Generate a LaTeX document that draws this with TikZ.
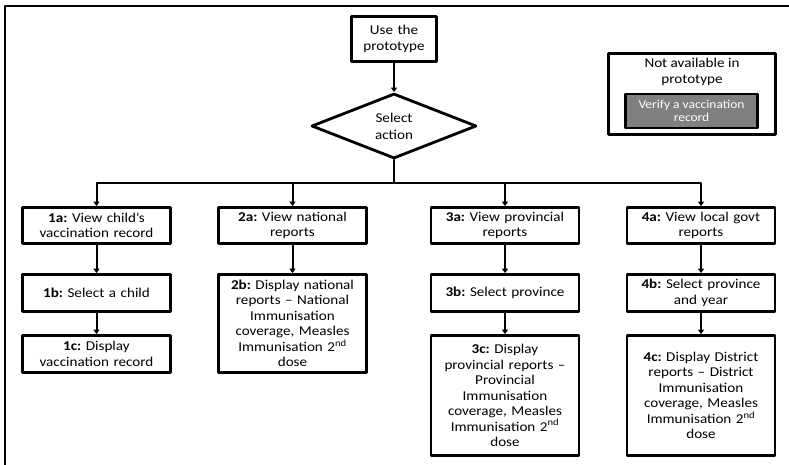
\documentclass[tikz,border=0pt]{standalone}
\usepackage{fontspec}
\setmainfont{Carlito}[FakeStretch=1.12]
\frenchspacing
\usetikzlibrary{shapes.geometric, arrows.meta}

\begin{document}
\begin{tikzpicture}[x=1pt, y=-1pt, line cap=round, line join=round,
  box/.style={draw, line width=2.8pt, minimum width=148, text width=146,
    align=center, inner sep=1pt, font=\fontsize{13.5}{15.5}\selectfont},
  arr/.style={-{Triangle[width=6pt,length=4.5pt]}, line width=2pt}]

\useasboundingbox (0,0) rectangle (789,465);

% cornice
\draw[line width=1.6pt] (5,465) -- (5,6) -- (789,6);

% inizio e scelta
\node[box, minimum width=85, minimum height=45, text width=82,
  font=\fontsize{13.5}{16.5}\selectfont] (use) at (394,39) {Use the\\prototype};
\node[draw, diamond, line width=2.8pt, minimum width=165, minimum height=65,
  inner sep=0pt, align=center, font=\fontsize{13.5}{17}\selectfont] (act) at (394,126) {Select\\action};
\coordinate (bus) at (394,183);

% non disponibile
\node[draw, line width=2.8pt, minimum width=167, minimum height=81] (na) at (692,94) {};
\node[font=\fontsize{13.5}{15.5}\selectfont, align=center] (natxt) at (692,72) {Not available in\\prototype};
\node[draw, line width=2.8pt, fill=black!50, text=white, minimum width=132, minimum height=34,
  align=center, font=\fontsize{12}{12.5}\selectfont] (verify) at (691.5,111) {Verify a vaccination\\record};

% colonna 1
\node[box, minimum height=36] (v1a) at (96.5,225.5) {\textbf{1a:} View child’s\\vaccination record};
\node[box, minimum height=37] (v1b) at (96.5,293) {\textbf{1b:} Select a child};
\node[box, minimum height=37] (v1c) at (96.5,354) {\textbf{1c:} Display\\vaccination record};

% colonna 2
\node[box, minimum height=36] (v2a) at (292.5,225.5) {\textbf{2a:} View national\\reports};
\node[box, minimum height=98] (v2b) at (292.5,323.5) {\textbf{2b:} Display national\\reports -- National\\Immunisation\\coverage, Measles\\Immunisation 2\textsuperscript{nd}\\dose};

% colonna 3
\node[box, minimum height=36] (v3a) at (505,225.5) {\textbf{3a:} View provincial\\reports};
\node[box, minimum height=37] (v3b) at (505,293) {\textbf{3b:} Select province};
\node[box, minimum height=120] (v3c) at (505,395.5) {\textbf{3c:} Display\\provincial reports --\\Provincial\\Immunisation\\coverage, Measles\\Immunisation 2\textsuperscript{nd}\\dose};

% colonna 4
\node[box, minimum height=36] (v4a) at (701,225.5) {\textbf{4a:} View local govt\\reports};
\node[box, minimum height=37] (v4b) at (701,293) {\textbf{4b:} Select province\\and year};
\node[box, minimum height=120] (v4c) at (701,395.5) {\textbf{4c:} Display District\\reports -- District\\Immunisation\\coverage, Measles\\Immunisation 2\textsuperscript{nd}\\dose};

% frecce
\draw[arr] (use) -- (act);
\draw[line width=2pt] (act) -- (bus);
\draw[arr] (bus) -| (v1a);
\draw[arr] (bus) -| (v2a);
\draw[arr] (bus) -| (v3a);
\draw[arr] (bus) -| (v4a);
\draw[arr] (v1a) -- (v1b);
\draw[arr] (v1b) -- (v1c);
\draw[arr] (v2a) -- (v2b);
\draw[arr] (v3a) -- (v3b);
\draw[arr] (v3b) -- (v3c);
\draw[arr] (v4a) -- (v4b);
\draw[arr] (v4b) -- (v4c);

\end{tikzpicture}
\end{document}
